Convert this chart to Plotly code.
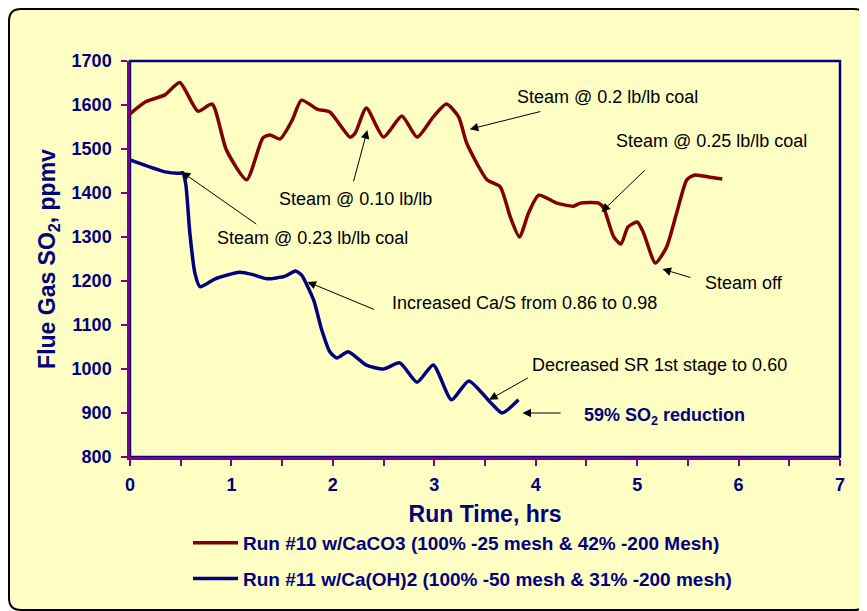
import plotly.graph_objects as go

# ---- data ----
run10_t = [0, 0.15, 0.345, 0.49, 0.67, 0.81, 0.95, 1.15, 1.31, 1.38, 1.48, 1.6, 1.69, 1.85, 1.97,
           2.17, 2.22, 2.33, 2.5, 2.68, 2.83, 2.99, 3.12, 3.24, 3.32, 3.52, 3.65, 3.75, 3.84, 3.93,
           4.03, 4.21, 4.37, 4.44, 4.62, 4.67, 4.77, 4.84, 4.91, 5.0, 5.06, 5.18, 5.29, 5.39, 5.49,
           5.57, 5.72, 5.84]
run10_so2 = [1580, 1607, 1623, 1651, 1586, 1602, 1498, 1430, 1525, 1532, 1523, 1566, 1611, 1590, 1584,
             1527, 1536, 1593, 1527, 1575, 1527, 1573, 1602, 1573, 1513, 1430, 1414, 1345, 1300, 1355,
             1395, 1377, 1370, 1377, 1377, 1366, 1300, 1284, 1323, 1334, 1311, 1241, 1277, 1355, 1430,
             1441, 1436, 1432]

run11_t = [0, 0.345, 0.49, 0.52, 0.55, 0.59, 0.64, 0.69, 0.84, 1.08, 1.22, 1.35, 1.53, 1.63, 1.69,
           1.81, 1.89, 1.97, 2.04, 2.15, 2.33, 2.5, 2.66, 2.83, 2.99, 3.17, 3.34, 3.55, 3.67, 3.83]
run11_so2 = [1475, 1448, 1445, 1446, 1420, 1309, 1218, 1187, 1205, 1220, 1214, 1205, 1211, 1223, 1214,
             1157, 1089, 1039, 1025, 1039, 1009, 1000, 1014, 970, 1009, 930, 973, 925, 900, 930]

series_names = ["Run #10 w/CaCO3 (100% -25 mesh & 42% -200 Mesh)",
                "Run #11 w/Ca(OH)2 (100% -50 mesh & 31% -200 mesh)"]

note_text = ["Steam @ 0.2 lb/lb coal", "Steam @ 0.25 lb/lb coal", "Steam off",
             "Steam @ 0.10 lb/lb", "Steam @ 0.23 lb/lb coal",
             "Increased Ca/S from 0.86 to 0.98", "Decreased SR 1st stage to 0.60"]
note_x = [3.80, 4.77, 5.65, 1.45, 0.84, 2.56, 3.94]
note_y = [1618, 1518, 1195, 1386, 1298, 1150, 1009]

# arrows: tail (ax, ay) -> head (x, y)
arrow_tail_x = [4.06, 5.09, 5.54, 2.20, 1.26, 2.42, 3.94, 4.26]
arrow_tail_y = [1586, 1455, 1207, 1423, 1327, 1134, 982, 900]
arrow_head_x = [3.35, 4.65, 5.25, 2.34, 0.51, 1.75, 3.54, 3.87]
arrow_head_y = [1545, 1357, 1227, 1543, 1448, 1198, 930, 900]

x_ticks = [0, 1, 2, 3, 4, 5, 6, 7]
y_ticks = [800, 900, 1000, 1100, 1200, 1300, 1400, 1500, 1600, 1700]

# ---- styles ----
NAVY = "#000080"
MAROON = "#800000"
PURPLE = "#800080"
BG = "#FFFFC4"
FONT = "Arial, Liberation Sans, sans-serif"

fig = go.Figure()
fig.add_trace(go.Scatter(x=run10_t, y=run10_so2, mode="lines", name=series_names[0],
                         legendgroup="a",
                         line=dict(color=MAROON, width=3.5, shape="spline", smoothing=0.6)))
fig.add_trace(go.Scatter(x=run11_t, y=run11_so2, mode="lines", name=series_names[1],
                         legendgroup="b",
                         line=dict(color=NAVY, width=3.5, shape="spline", smoothing=0.6)))

W, H = 859, 603
L, R, T, B = 122, 27, 53, 154
pw, ph = W - L - R, H - T - B


def px2paper(px, py):
    return (px - L) / pw, (H - B - py) / ph


# rounded outer box
x0, y1 = px2paper(1, 1)
x1, y0 = px2paper(858, 602)
rx = 12 / pw
ry = 12 / ph
path = (f"M {x0+rx},{y1} L {x1-rx},{y1} Q {x1},{y1} {x1},{y1-ry} L {x1},{y0+ry} "
        f"Q {x1},{y0} {x1-rx},{y0} L {x0+rx},{y0} Q {x0},{y0} {x0},{y0+ry} "
        f"L {x0},{y1-ry} Q {x0},{y1} {x0+rx},{y1} Z")
shapes = [
    dict(type="path", path=path, xref="paper", yref="paper", fillcolor=BG,
         line=dict(color="black", width=2), layer="below"),
    dict(type="rect", x0=0, x1=1, y0=0, y1=1, xref="paper", yref="paper",
         line=dict(color=NAVY, width=2.5), fillcolor=BG, layer="below"),
]

annotations = []
for t, x, y in zip(note_text, note_x, note_y):
    annotations.append(dict(x=x, y=y, xref="x", yref="y", text=t, showarrow=False,
                            xanchor="left", yanchor="middle",
                            font=dict(family=FONT, size=18, color="black")))
annotations.append(dict(x=4.46, y=893, xref="x", yref="y", text="<b>59% SO<sub>2</sub> reduction</b>",
                        showarrow=False, xanchor="left", yanchor="middle",
                        font=dict(family=FONT, size=18, color=NAVY)))
for tx, ty, hx, hy in zip(arrow_tail_x, arrow_tail_y, arrow_head_x, arrow_head_y):
    annotations.append(dict(x=hx, y=hy, ax=tx, ay=ty, xref="x", yref="y", axref="x", ayref="y",
                            text="", showarrow=True, arrowhead=2, arrowsize=1.7, arrowwidth=1,
                            arrowcolor="black", standoff=0, startstandoff=0))

fig.update_layout(
    width=W, height=H,
    margin=dict(l=L, r=R, t=T, b=B),
    paper_bgcolor="white", plot_bgcolor="rgba(0,0,0,0)",
    font=dict(family=FONT, color=NAVY),
    shapes=shapes, annotations=annotations,
    showlegend=True,
    legend=dict(x=(180 - L) / pw, y=(H - B - 516) / ph, xanchor="left", yanchor="top",
                bgcolor="rgba(0,0,0,0)", tracegroupgap=8, itemwidth=45,
                font=dict(family=FONT, size=19, color=NAVY, weight="bold")),
    xaxis=dict(range=[0, 7], tickvals=x_ticks, ticks="outside", ticklen=6, tickwidth=2,
               tickcolor=PURPLE, showline=True, linecolor=PURPLE, linewidth=2.5,
               showgrid=False, zeroline=False, ticklabelstandoff=4,
               minor=dict(dtick=0.5, ticks="outside", ticklen=6, tickwidth=2, tickcolor=PURPLE),
               tickfont=dict(family=FONT, size=18, color=NAVY, weight="bold"),
               title=dict(text="<b>Run Time, hrs</b>", standoff=12,
                          font=dict(family=FONT, size=23, color=NAVY))),
    yaxis=dict(range=[800, 1700], tickvals=y_ticks, ticks="outside", ticklen=6, tickwidth=2,
               tickcolor=PURPLE, showline=True, linecolor=PURPLE, linewidth=2.5,
               showgrid=False, zeroline=False, ticklabelstandoff=6,
               tickfont=dict(family=FONT, size=18, color=NAVY, weight="bold"),
               title=dict(text="<b>Flue Gas SO<sub>2</sub>, ppmv</b>", standoff=10,
                          font=dict(family=FONT, size=23, color=NAVY))),
)

fig.write_html("out.html")
